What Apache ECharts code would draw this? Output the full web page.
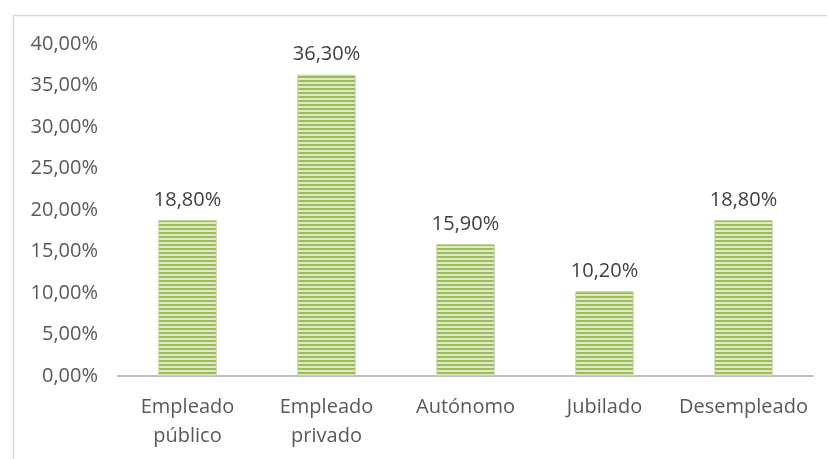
<!DOCTYPE html>
<html><head><meta charset="utf-8">
<script src="https://cdn.jsdelivr.net/npm/echarts@6/dist/echarts.min.js"></script>
<style>html,body{margin:0;padding:0;background:#fff}#c{width:827px;height:459px}</style>
</head><body><div id="c"></div>
<script>
var categories = ['Empleado\npúblico', 'Empleado\nprivado', 'Autónomo', 'Jubilado', 'Desempleado'];
var values = [18.8, 36.3, 15.9, 10.2, 18.8];
var yTicks = { min: 0, max: 40, interval: 5 };

function fmt(v) { return v.toFixed(2).replace('.', ',') + '%'; }

var pc = document.createElement('canvas');
pc.width = 4; pc.height = 4;
var ctx = pc.getContext('2d');
ctx.fillStyle = '#dfeac9'; ctx.fillRect(0, 0, 4, 4);
ctx.fillStyle = '#9bbb59'; ctx.fillRect(0, 0, 4, 2);

var chart = echarts.init(document.getElementById('c'));
chart.setOption({
  animation: false,
  textStyle: { fontFamily: 'Open Sans' },
  graphic: [{ type: 'rect', left: 11, top: 13, shape: { width: 840, height: 470 },
    style: { fill: 'none', stroke: '#d9d9d9', lineWidth: 1.5 }, silent: true }],
  grid: { left: 118, right: 14, top: 44, bottom: 83 },
  xAxis: {
    type: 'category', data: categories,
    axisLine: { lineStyle: { color: '#bfbfbf', width: 2 } },
    axisTick: { show: false },
    axisLabel: { color: '#595959', fontSize: 20, lineHeight: 29, margin: 17, interval: 0 }
  },
  yAxis: {
    type: 'value', min: yTicks.min, max: yTicks.max, interval: yTicks.interval,
    splitLine: { show: false },
    axisLine: { show: false }, axisTick: { show: false },
    axisLabel: { color: '#595959', fontSize: 20, margin: 20, formatter: fmt }
  },
  series: [{
    type: 'bar', data: values, barWidth: '42%',
    itemStyle: { color: { image: pc, repeat: 'repeat' }, borderColor: '#c3d69b', borderWidth: 1 },
    label: { show: true, position: 'top', distance: 10, color: '#404040', fontSize: 20,
      formatter: function (p) { return fmt(p.value); } }
  }]
});
</script></body></html>
